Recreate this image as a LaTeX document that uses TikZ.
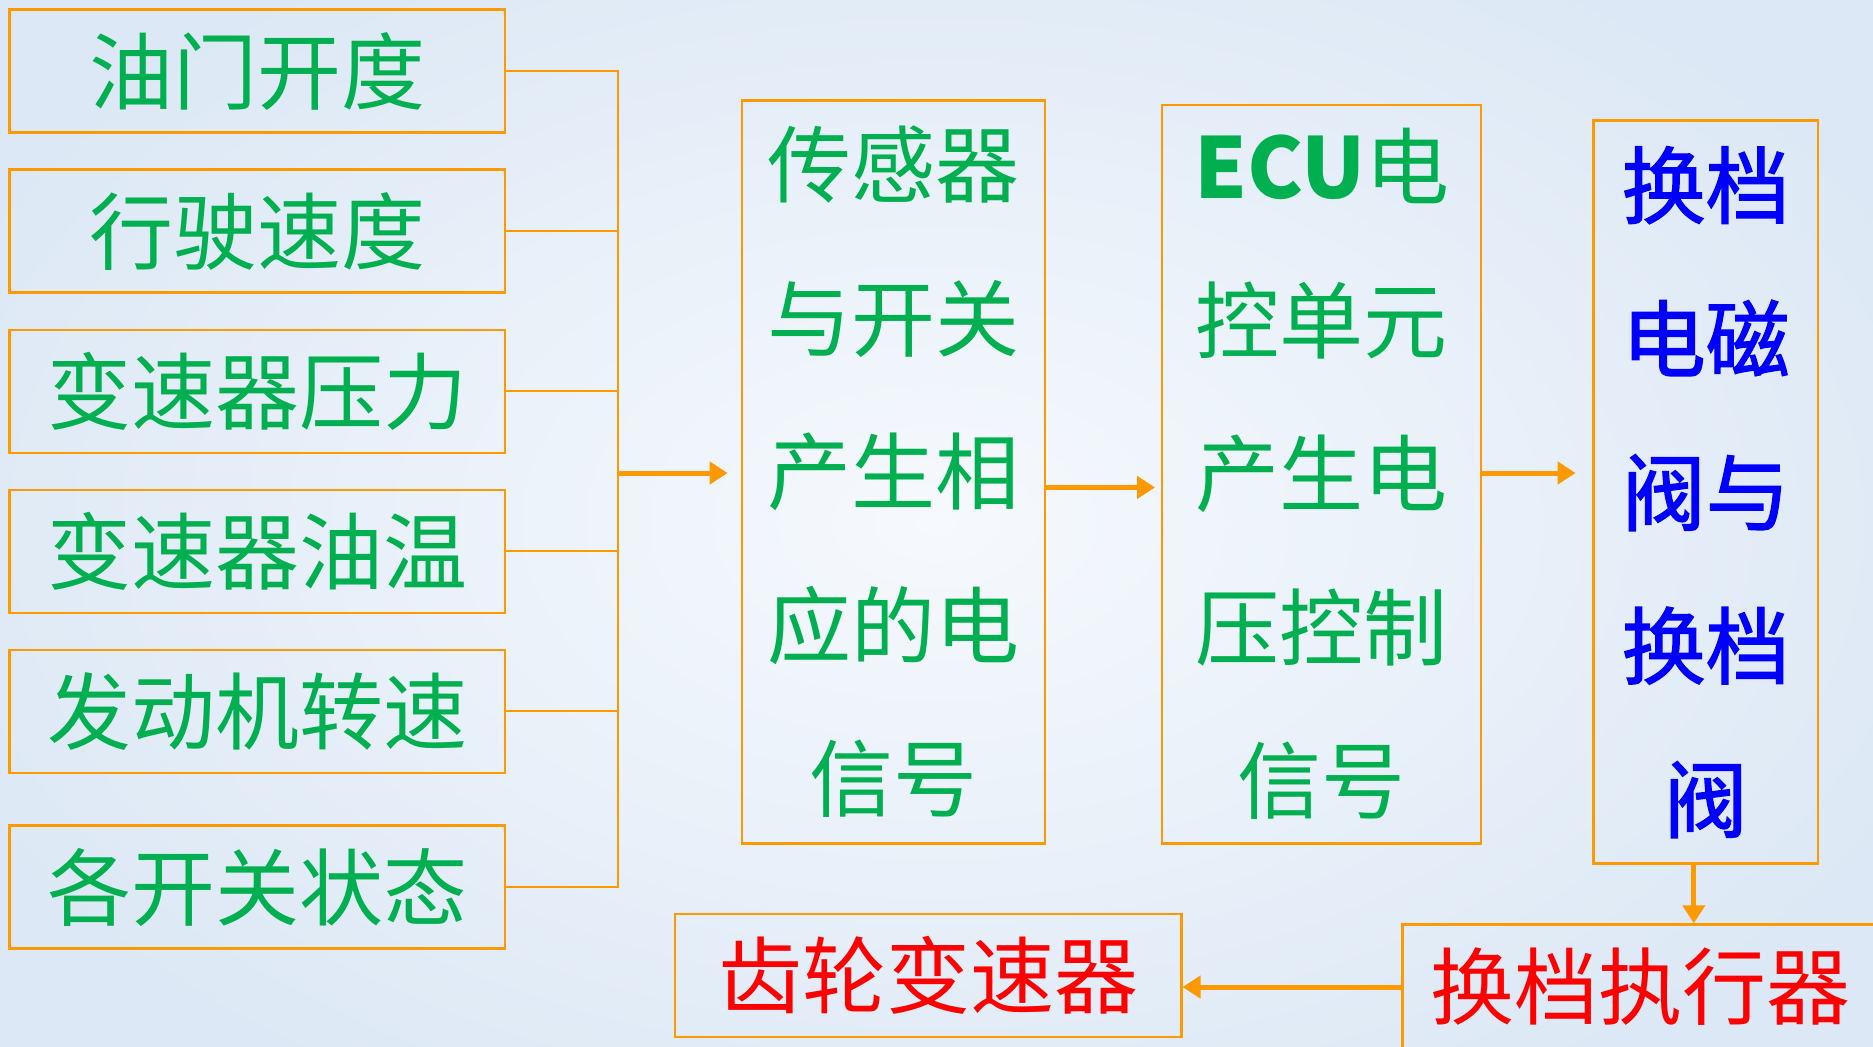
\documentclass[tikz,border=0pt]{standalone}
\usepackage{fontspec}
\setmainfont{Noto Sans CJK SC}
\newfontfamily\semibold[FakeBold=1.6]{Noto Sans CJK SC}
\usetikzlibrary{arrows.meta,calc}
\definecolor{og}{HTML}{FF9900}
\definecolor{gr}{HTML}{00B050}
\definecolor{bl}{HTML}{0000FF}
\definecolor{rd}{HTML}{FF0000}
\definecolor{bgout}{HTML}{DCE8F5}
\definecolor{bgin}{HTML}{F6F9FD}
\tikzset{
  box/.style={draw=og, line width=1.2pt, inner sep=0pt, align=center},
  big/.style={font=\fontsize{42}{76.75}\selectfont},
  link/.style={draw=og, line width=1.1pt},
  arr/.style={draw=og, line width=2.5pt, -{Triangle[length=9pt,width=11pt]}},
}
\begin{document}
\begin{tikzpicture}[x=0.5pt,y=-0.5pt]
\useasboundingbox (0,0) rectangle (1873,1046);
\shade[inner color=bgin, outer color=bgout] (-150,-150) rectangle (2023,1196);
% left inputs
\node[box,big,text=gr,minimum width=247.7pt,minimum height=61.5pt] (b1) at (257.3,71.1) {油门开度};
\node[box,big,text=gr,minimum width=247.7pt,minimum height=61.5pt] (b2) at (257.3,231.1) {行驶速度};
\node[box,big,text=gr,minimum width=247.7pt,minimum height=61.5pt] (b3) at (257.3,391.2) {变速器压力};
\node[box,big,text=gr,minimum width=247.7pt,minimum height=61.5pt] (b4) at (257.3,551.2) {变速器油温};
\node[box,big,text=gr,minimum width=247.7pt,minimum height=61.5pt] (b5) at (257.3,711.3) {发动机转速};
\node[box,big,text=gr,minimum width=247.7pt,minimum height=61.5pt] (b6) at (257.3,886.9) {各开关状态};
% middle boxes
\node[box,big,text=gr,minimum width=151.7pt,minimum height=371.5pt] (sen) at (893.5,471.8) {传感器\\与开关\\产生相\\应的电\\信号};
\node[box,big,text=gr,minimum width=159.5pt,minimum height=369.1pt] (ecu) at (1321.7,474.2) {\textbf{ECU}电\\控单元\\产生电\\压控制\\信号};
\node[box,text=bl,font=\fontsize{42}{76.75}\selectfont\semibold,minimum width=112.3pt,minimum height=371.5pt] (sol) at (1705.7,492.1) {换档\\电磁\\阀与\\换档\\阀};
% bottom boxes
\node[box,big,text=rd,minimum width=237.7pt,minimum height=62.5pt] (exe) at (1640,987) {换档执行器};
\node[box,big,text=rd,minimum width=253.2pt,minimum height=61.5pt] (gear) at (928.1,975.3) {齿轮变速器};
% bus
\coordinate (busx) at (617.6,0);
\coordinate (busm) at (617.6,473);
\draw[link] (b1.east) -- (b1.east -| busx) -- (b6.east -| busx) -- (b6.east);
\foreach \b in {b2,b3,b4,b5} \draw[link] (\b.east) -- (\b.east -| busx);
\draw[arr, shorten >=6.5pt] (busm) -- (sen.west |- busm);
\coordinate (a2) at (1045.2,487.4);
\draw[arr, shorten >=3pt] (a2) -- (ecu.west |- a2);
\coordinate (a3) at (1481.2,473);
\draw[arr, shorten >=8.3pt] (a3) -- (sol.west |- a3);
\coordinate (a4) at (1693.8,863.6);
\draw[arr] (a4) -- (exe.north -| a4);
\draw[arr] (exe.west) -- (gear.east |- exe.west);
\end{tikzpicture}
\end{document}
